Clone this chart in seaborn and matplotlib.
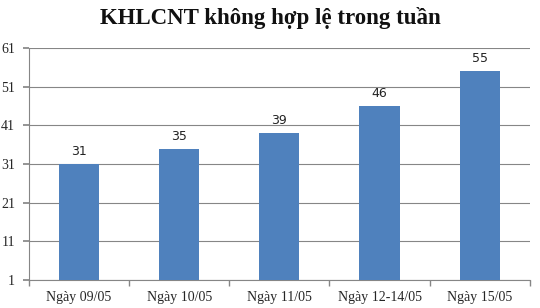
import matplotlib
matplotlib.use("Agg")
import matplotlib.pyplot as plt
import seaborn as sns
import pandas as pd
import numpy as np

categories = ["Ngày 09/05", "Ngày 10/05", "Ngày 11/05", "Ngày 12-14/05", "Ngày 15/05"]
values = [31, 35, 39, 46, 55]
yticks = [1, 11, 21, 31, 41, 51, 61]
title = "KHLCNT không hợp lệ trong tuần"

sns.set_theme(style="white")
plt.rcParams['font.family'] = ['Liberation Serif', 'DejaVu Serif']

df = pd.DataFrame({"cat": categories, "val": values})
fig = plt.figure(figsize=(5.4, 3.08), dpi=100)
ax = fig.add_axes([0.0537, 0.0909, 0.9273, 0.7531])
sns.barplot(data=df, x="cat", y="val", color="#4F81BD", width=0.4, saturation=1,
            linewidth=0, ax=ax, zorder=3)
ax.set_ylim(1, 61)
ax.set_xlim(-0.5, len(categories) - 0.5)
ax.set_yticks(yticks)
ax.set_yticklabels([str(t) for t in yticks], fontsize=10)
ax.grid(axis="y", color="#868686", linewidth=0.8, zorder=0)
ax.set_xlabel("")
ax.set_ylabel("")
for s in ["top", "right"]:
    ax.spines[s].set_visible(False)
for s in ["left", "bottom"]:
    ax.spines[s].set_color("#868686")
    ax.spines[s].set_linewidth(0.8)
ax.tick_params(axis="y", left=True, length=4, color="#868686", pad=6, labelsize=10)
ax.set_xticks(np.arange(len(categories)))
ax.set_xticklabels(categories, fontsize=10)
ax.set_xticks(np.arange(len(categories) + 1) - 0.5, minor=True)
ax.tick_params(axis="x", which="major", bottom=False, pad=2)
ax.tick_params(axis="x", which="minor", bottom=True, length=4, color="#868686")
for i, v in enumerate(values):
    ax.text(i, v + 1.5, str(v), ha="center", va="bottom", fontsize=9,
            family=["DejaVu Sans"], color="#222222")
fig.text(0.5, 0.94, title, ha="center", va="center", fontsize=16.5, fontweight="bold",
         color="#111111")
fig.savefig("out.png", dpi=100)
